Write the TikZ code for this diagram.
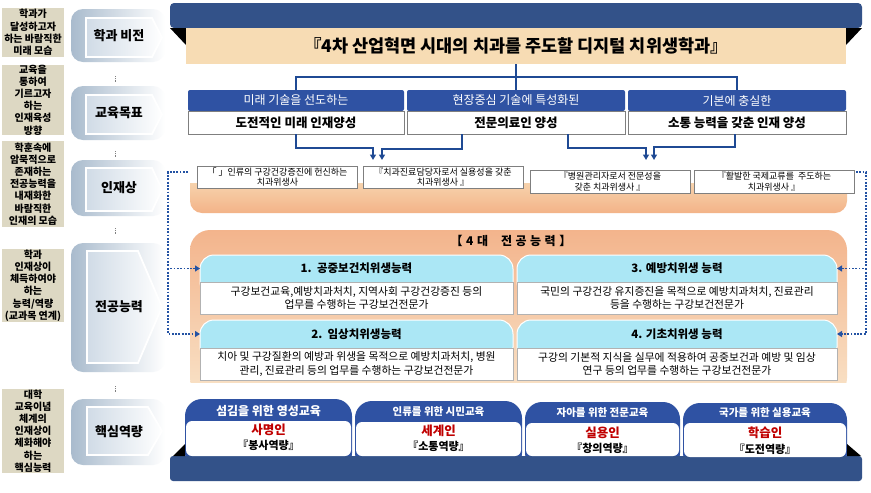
\documentclass[tikz,border=0pt]{standalone}
\usepackage{fontspec}
\setmainfont{Noto Sans CJK KR}
\usetikzlibrary{arrows.meta}
\definecolor{tanc}{HTML}{DDD8C3}
\definecolor{navyc}{HTML}{335289}
\definecolor{goalc}{HTML}{2F52A3}
\definecolor{treec}{HTML}{1F4A94}
\definecolor{dotc}{HTML}{2352A3}
\definecolor{ribc}{HTML}{F7DCB4}
\definecolor{cyanc}{HTML}{ABE7F5}
\definecolor{redc}{HTML}{C00000}
\definecolor{chevc}{HTML}{A9BBCD}
\definecolor{chevin}{HTML}{D0DBE6}
\definecolor{boxline}{HTML}{7F7F7F}
\definecolor{peachtop}{HTML}{F8E0BC}
\definecolor{peachbot}{HTML}{F3B388}
\definecolor{bigtop}{HTML}{F3B48C}
\definecolor{bigbot}{HTML}{F9E3C8}
\begin{document}
\begin{tikzpicture}[x=1pt,y=-1pt,
  every node/.style={inner sep=0pt,outer sep=0pt},
  lab/.style={fill=tanc, minimum width=62pt, align=center, font=\bfseries\fontsize{10}{12.2}\selectfont},
  chevtext/.style={font=\bfseries\fontsize{13}{15}\selectfont},
  ghead/.style={fill=goalc, text=white, rounded corners=2pt, minimum height=21pt, font=\fontsize{12}{14}\selectfont},
  gbody/.style={fill=white, draw=boxline, line width=0.8pt, minimum height=23pt, font=\bfseries\fontsize{12.5}{14}\selectfont},
  tree/.style={draw=treec, line width=1.6pt},
  treearr/.style={tree, -{Triangle[width=6pt,length=5.5pt]}},
  ideal/.style={fill=white, draw=boxline, line width=0.9pt, minimum width=160pt, align=center, font=\fontsize{9}{10.8}\selectfont},
  dotarr/.style={draw=dotc, line width=1.8pt, dash pattern=on 1.8pt off 1.5pt, -{Triangle[width=6pt,length=5pt]}},
  chead/.style={font=\bfseries\fontsize{11.5}{13}\selectfont, minimum height=27pt},
  cbody/.style={fill=white, draw=gray!60, line width=0.9pt, minimum height=32pt, align=center, font=\fontsize{10.8}{13.2}\selectfont},
  cfill/.style={fill=cyanc, draw=white, line width=1pt, rounded corners=14pt},
  tabfill/.style={fill=goalc, rounded corners=17pt},
  tabbody/.style={fill=white, rounded corners=6pt},
  tabhead/.style={text=white, font=\bfseries\fontsize{10.5}{12}\selectfont},
  tabname/.style={text=redc, font=\bfseries\fontsize{12.5}{14}\selectfont},
  tabcomp/.style={font=\bfseries\fontsize{11}{12}\selectfont},
  tick/.style={draw=gray, line width=0.7pt, dash pattern=on 0.8pt off 1pt}]
\useasboundingbox[fill=white] (0,0) rectangle (871,493);

% ---------- left labels ----------
\node[lab, minimum height=49pt] (l1) at (33,32.5) {학과가\\달성하고자\\하는 바람직한\\미래 모습};
\node[lab, minimum height=70pt] (l2) at (33,100) {교육을\\통하여\\기르고자\\하는\\인재육성\\방향};
\node[lab, minimum height=86pt] (l3) at (33,184) {학훈속에\\암묵적으로\\존재하는\\전공능력을\\내재화한\\바람직한\\인재의 모습};
\node[lab, minimum height=73pt] (l4) at (33,285.5) {학과\\인재상이\\체득하여야\\하는\\능력/역량\\(교과목 연계)};
\node[lab, minimum height=84pt] (l5) at (33,431) {대학\\교육이념\\체계의\\인재상이\\체화해야\\하는\\핵심능력};

% ---------- chevron shapes ----------
\shade[left color=chevc, right color=white, rounded corners=12pt] (71,9) rectangle (165,62);
\shadedraw[left color=chevin, right color=white, draw=white, line width=1.8pt] (86,18) -- (152,18) -- (162,37.5) -- (152,57) -- (86,57) -- cycle;
\node[chevtext] (s1) at (119,36) {학과 비전};

\shade[left color=chevc, right color=white, rounded corners=12pt] (71,86) rectangle (165,140);
\shadedraw[left color=chevin, right color=white, draw=white, line width=1.8pt] (86,95) -- (152,95) -- (162,114.5) -- (152,134) -- (86,134) -- cycle;
\node[chevtext] (s2) at (119,113) {교육목표};

\shade[left color=chevc, right color=white, rounded corners=12pt] (71,160) rectangle (165,216);
\shadedraw[left color=chevin, right color=white, draw=white, line width=1.8pt] (86,168) -- (152,168) -- (162,189.5) -- (152,211) -- (86,211) -- cycle;
\node[chevtext] (s3) at (119,188) {인재상};

\shade[left color=chevc, right color=white, rounded corners=12pt] (71,243) rectangle (165,372);
\shadedraw[left color=chevin, right color=white, draw=white, line width=1.8pt] (87,251) -- (138,251) -- (162,307) -- (138,363) -- (87,363) -- cycle;
\node[chevtext] (s4) at (119,307) {전공능력};

\shade[left color=chevc, right color=white, rounded corners=12pt] (71,399) rectangle (165,465);
\shadedraw[left color=chevin, right color=white, draw=white, line width=1.8pt] (87,407) -- (148,407) -- (162,431) -- (148,455) -- (87,455) -- cycle;
\node[chevtext] (s5) at (119,432) {핵심역량};

\draw[tick] (115,76) -- (115,82);
\draw[tick] (115,151) -- (115,157);
\draw[tick] (115,228) -- (115,234);
\draw[tick] (115,386) -- (115,392);

% ---------- vision ----------
\fill[navyc, rounded corners=4pt] (170,3) rectangle (862,28);
\fill[black] (170,28) -- (186,28) -- (186,45) -- cycle;
\fill[black] (862,28) -- (846,28) -- (846,45) -- cycle;
\node[fill=ribc, minimum width=660pt, minimum height=36pt, font=\bfseries\fontsize{17.5}{20}\selectfont] (vision) at (516,46) {『4차 산업혁면 시대의 치과를 주도할 디지털 치위생학과』};

% ---------- goals ----------
\node[ghead, minimum width=216pt] (g1h) at (296,100.5) {미래 기술을 선도하는};
\node[gbody, minimum width=216pt] (g1b) at (296,122.5) {도전적인 미래 인재양성};
\node[ghead, minimum width=218pt] (g2h) at (516,100.5) {현장중심 기술에 특성화된};
\node[gbody, minimum width=218pt] (g2b) at (516,122.5) {전문의료인 양성};
\node[ghead, minimum width=218pt] (g3h) at (737,100.5) {기본에 충실한};
\node[gbody, minimum width=218pt] (g3b) at (737,122.5) {소통 능력을 갖춘 인재 양성};

\coordinate (split) at (516,77);
\draw[tree] (vision.south) -- (split) -- (g2h.north);
\draw[tree] (g1h.north) |- (split) -| (g3h.north);

% ---------- ideal band ----------
\begin{scope}
\clip (190,183) rectangle (847,214);
\shade[top color=peachtop, bottom color=peachbot, rounded corners=12pt] (190,170) rectangle (847,213);
\end{scope}
\node[ideal, minimum height=22pt] (iA) at (277.5,177) {「 」인류의 구강건강증진에 헌신하는\\치과위생사};
\node[ideal, minimum height=22pt] (iB) at (443,177) {『치과진료담당자로서 실용성을 갖춘\\치과위생사 』};
\node[ideal, minimum height=23pt] (iC) at (610,181.5) {『병원관리자로서 전문성을\\갖춘 치과위생사 』};
\node[ideal, minimum height=23pt] (iD) at (774,181.5) {『활발한 국제교류를 \ 주도하는\\치과위생사 』};

\coordinate (a1) at (373,160);
\coordinate (a2) at (382,160);
\coordinate (a3) at (646,160);
\coordinate (a4) at (654,160);
\draw[treearr] (g1b.south) -- ++(0,14) -| (a1);
\draw[treearr] ([xshift=-54pt]g2b.south) -- ++(0,15) -| (a2);
\draw[treearr] ([xshift=52pt]g2b.south) -- ++(0,14) -| (a3);
\draw[treearr] ([xshift=-2pt]g3b.south) -- ++(0,13) -| (a4);

% ---------- 4 major competencies ----------
\begin{scope}
\clip (190,230) rectangle (847,382);
\shade[top color=bigtop, bottom color=bigbot, rounded corners=20pt] (190,230) rectangle (847,398);
\end{scope}
\node[font=\bfseries\fontsize{12}{14}\selectfont] (title) at (511,241) {【\hspace{3.5pt}4\hspace{3.5pt}대\hspace{13pt}전\hspace{3.5pt}공\hspace{3.5pt}능\hspace{3.5pt}력\hspace{3.5pt}】};

\filldraw[cfill] (200,255) rectangle (513,296);
\filldraw[cfill] (517,255) rectangle (837,296);
\filldraw[cfill] (200,320) rectangle (513,361);
\filldraw[cfill] (517,320) rectangle (837,361);

\node[cbody, minimum width=313pt] (c1b) at (356.5,298) {구강보건교육,예방치과처치, 지역사회 구강건강증진 등의\\업무를 수행하는 구강보건전문가};
\node[cbody, minimum width=320pt] (c3b) at (677,298) {국민의 구강건강 유지증진을 목적으로 예방치과처치, 진료관리\\등을 수행하는 구강보건전문가};
\node[cbody, minimum width=313pt] (c2b) at (356.5,364) {치아 및 구강질환의 예방과 위생을 목적으로 예방치과처치, 병원\\관리, 진료관리 등의 업무를 수행하는 구강보건전문가};
\node[cbody, minimum width=320pt] (c4b) at (677,364) {구강의 기본적 지식을 실무에 적용하여 공중보건과 예방 및 임상\\연구 등의 업무를 수행하는 구강보건전문가};

\node[chead, minimum width=313pt] (c1h) at (356.5,268.5) {1.\ \ 공중보건치위생능력};
\node[chead, minimum width=320pt] (c3h) at (677,268.5) {3. 예방치위생 능력};
\node[chead, minimum width=313pt] (c2h) at (356.5,334) {2.\ \ 임상치위생능력};
\node[chead, minimum width=320pt] (c4h) at (677,334) {4. 기초치위생 능력};

% dotted connectors
\coordinate (dA) at (188,172);
\coordinate (dl1) at (168,268.5);
\coordinate (dl2) at (168,334);
\coordinate (dD) at (856,172);
\coordinate (dr1) at (866,268.5);
\coordinate (dr2) at (866,334);
\draw[dotarr] (dA) -| (dl1) -- (c1h.west);
\draw[dotarr] (dl1) -- (dl2) -- (c2h.west);
\draw[dotarr] (dD) -| (dr1) -- (c3h.east);
\draw[dotarr] (dr1) -- (dr2) -- (c4h.east);

% ---------- core competencies ----------
\fill[tabfill] (185,399) rectangle (352,470);
\fill[tabfill] (355,401) rectangle (522,470);
\fill[tabfill] (525,402) rectangle (680,470);
\fill[tabfill] (683,403) rectangle (847,470);
\fill[navyc, rounded corners=3pt] (170,456) rectangle (862,481);
\fill[black] (173,456) -- (185,444) -- (185,456) -- cycle;
\fill[black] (861,456) -- (847,444) -- (847,456) -- cycle;

\node[tabbody, minimum width=165pt, minimum height=35pt] (tb1) at (268.5,438.5) {};
\node[tabbody, minimum width=165pt, minimum height=34pt] (tb2) at (438.5,439) {};
\node[tabbody, minimum width=153pt, minimum height=33pt] (tb3) at (602.5,439.5) {};
\node[tabbody, minimum width=162pt, minimum height=34pt] (tb4) at (765,440) {};

\node[tabhead, font=\bfseries\fontsize{12}{13}\selectfont] (th1) at (268.5,411) {섬김을 위한 영성교육};
\node[tabhead] (th2) at (438.5,412) {인류를 위한 시민교육};
\node[tabhead] (th3) at (602.5,412.5) {자아를 위한 전문교육};
\node[tabhead] (th4) at (765,413) {국가를 위한 실용교육};

\node[tabname] (tn1) at (268.5,430) {사명인};
\node[tabname] (tn2) at (438.5,431) {세계인};
\node[tabname] (tn3) at (602.5,432.5) {실용인};
\node[tabname] (tn4) at (765,433) {학습인};

\node[tabcomp] (tk1) at (268.5,445.5) {『봉사역량』};
\node[tabcomp] (tk2) at (438.5,446) {『소통역량』};
\node[tabcomp] (tk3) at (602.5,448) {『창의역량』};
\node[tabcomp] (tk4) at (765,449) {『도전역량』};
\end{tikzpicture}
\end{document}
